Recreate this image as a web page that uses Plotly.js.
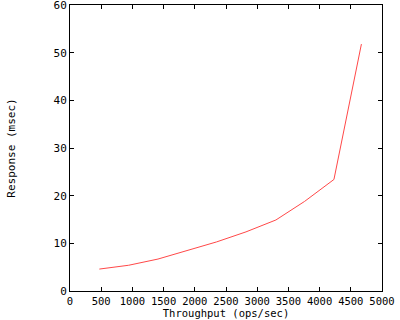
<!DOCTYPE html>
<html>
<head>
<meta charset="utf-8">
<script src="https://cdn.plot.ly/plotly-3.0.1.min.js"></script>
<style>html,body{margin:0;padding:0;background:#fff;}#chart{width:400px;height:320px;}</style>
</head>
<body>
<div id="chart"></div>
<script>
const throughput = [470, 940, 1410, 1880, 2350, 2820, 3300, 3760, 4230, 4670];
const response = [4.6, 5.4, 6.7, 8.5, 10.3, 12.4, 14.9, 18.8, 23.4, 51.8];
const xTitle = "Throughput (ops/sec)";
const yTitle = "Response (msec)";

const font = {family: "DejaVu Sans Mono, Liberation Mono, monospace", size: 11, color: "#000"};
const xfont = {family: "DejaVu Sans Mono, Liberation Mono, monospace", size: 10.5, color: "#000"};

Plotly.newPlot("chart", [{
  x: throughput, y: response, type: "scatter", mode: "lines",
  line: {color: "#ff4848", width: 1}, showlegend: false, hoverinfo: "none"
}], {
  width: 400, height: 320,
  margin: {l: 70, r: 18, t: 5, b: 29, pad: 0},
  paper_bgcolor: "#fff", plot_bgcolor: "#fff",
  font: font,
  xaxis: {
    range: [0, 5000], dtick: 500, tick0: 0, ticks: "inside", ticklen: 4, tickcolor: "#000",
    showline: true, linecolor: "#000", linewidth: 1, mirror: "allticks",
    showgrid: false, zeroline: false, fixedrange: true, automargin: false,
    tickfont: xfont, ticklabeloverflow: "allow", ticklabelstandoff: 0,
    title: {text: xTitle, font: xfont, standoff: 2}
  },
  yaxis: {
    range: [0, 60], dtick: 10, tick0: 0, ticks: "inside", ticklen: 4, tickcolor: "#000",
    showline: true, linecolor: "#000", linewidth: 1, mirror: "allticks",
    showgrid: false, zeroline: false, fixedrange: true, automargin: false,
    tickfont: font, ticklabeloverflow: "allow",
    title: {text: yTitle, font: font, standoff: 35}
  }
}, {staticPlot: true, displayModeBar: false});
</script>
</body>
</html>
